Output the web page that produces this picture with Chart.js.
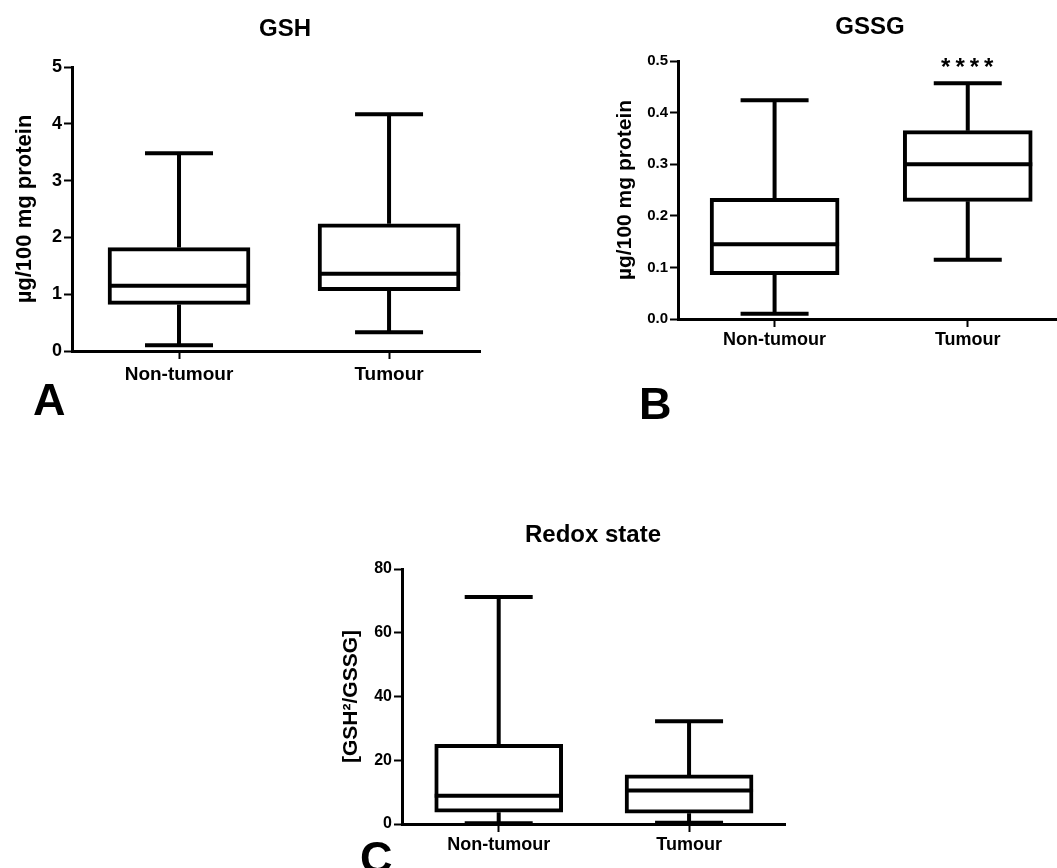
<!DOCTYPE html>
<html>
<head>
<meta charset="utf-8">
<title>GSH, GSSG and redox state</title>
<script src="https://cdn.jsdelivr.net/npm/chart.js@4.4.1/dist/chart.umd.min.js"></script>
<style>
  body { margin: 0; background: #fff; }
  #figure { position: relative; width: 1057px; height: 868px; overflow: hidden;
            font-family: 'Liberation Sans', Arial, sans-serif; font-weight: bold; color: #000; }
  #figure canvas { position: absolute; }
  .title { position: absolute; width: 300px; text-align: center; font-size: 24px; line-height: 24px; }
  .panel { position: absolute; font-size: 45px; line-height: 45px; }
</style>
</head>
<body>
<div id="figure">
  <canvas id="chart-gsh" width="500" height="430" style="left:0;top:0;width:500px;height:430px"></canvas>
  <canvas id="chart-gssg" width="557" height="430" style="left:500px;top:0;width:557px;height:430px"></canvas>
  <canvas id="chart-redox" width="500" height="368" style="left:330px;top:500px;width:500px;height:368px"></canvas>

  <div class="title" style="left:135px;top:16px">GSH</div>
  <div class="title" style="left:720px;top:14px">GSSG</div>
  <div class="title" style="left:443px;top:522px">Redox state</div>

  <div class="panel" style="left:33px;top:377px">A</div>
  <div class="panel" style="left:639px;top:381px">B</div>
  <div class="panel" style="left:360px;top:835px">C</div>
</div>

<script>
// groups on the x axis
const groups = ['Non-tumour', 'Tumour'];

// GSH, µg/100 mg protein
const gshMin = [0.10, 0.33];
const gshQ1 = [0.82, 1.06];
const gshMedian = [1.15, 1.36];
const gshQ3 = [1.82, 2.24];
const gshMax = [3.48, 4.17];

// GSSG, µg/100 mg protein
const gssgMin = [0.010, 0.115];
const gssgQ1 = [0.086, 0.228];
const gssgMedian = [0.145, 0.300];
const gssgQ3 = [0.234, 0.365];
const gssgMax = [0.424, 0.457];
const gssgMarks = ['', '****'];

// redox state, GSH^2/GSSG
const redoxMin = [0.2, 0.4];
const redoxQ1 = [3.7, 3.4];
const redoxMedian = [8.9, 10.5];
const redoxQ3 = [25.0, 15.4];
const redoxMax = [71.2, 32.2];

const FONT = "'Liberation Sans', Arial, sans-serif";
Chart.defaults.font.family = FONT;
Chart.defaults.font.weight = 'bold';
Chart.defaults.color = '#000';

// median line and whiskers, drawn from the scales after the boxes
const boxPlotLines = {
    id: 'boxPlotLines',
    afterDatasetsDraw(chart, args, opts) {
        const { ctx } = chart;
        const x = chart.scales.x;
        const y = chart.scales.y;
        ctx.save();
        ctx.strokeStyle = '#000';
        ctx.lineWidth = opts.lineWidth;
        groups.forEach((g, i) => {
            const cx = x.getPixelForValue(i + 1);
            const half = opts.boxWidth / 2;
            const cap = opts.capWidth / 2;
            const pMin = y.getPixelForValue(opts.min[i]);
            const pQ1 = y.getPixelForValue(opts.q1[i]);
            const pMed = y.getPixelForValue(opts.median[i]);
            const pQ3 = y.getPixelForValue(opts.q3[i]);
            const pMax = y.getPixelForValue(opts.max[i]);
            ctx.beginPath();
            ctx.moveTo(cx - half, pMed); ctx.lineTo(cx + half, pMed);
            ctx.moveTo(cx, pQ3); ctx.lineTo(cx, pMax);
            ctx.moveTo(cx - cap, pMax); ctx.lineTo(cx + cap, pMax);
            ctx.moveTo(cx, pQ1); ctx.lineTo(cx, pMin);
            ctx.moveTo(cx - cap, pMin); ctx.lineTo(cx + cap, pMin);
            ctx.stroke();

            // significance stars above the upper whisker
            if (opts.marks && opts.marks[i]) {
                ctx.font = 'bold 24px ' + FONT;
                ctx.fillStyle = '#000';
                ctx.textAlign = 'center';
                ctx.textBaseline = 'alphabetic';
                ctx.letterSpacing = '5px';
                ctx.fillText(opts.marks[i], cx + 2, pMax - 8);
                ctx.letterSpacing = '0px';
            }
        });
        ctx.restore();
    }
};

function makeBoxChart(id, s) {
    const axisGrid = { drawOnChartArea: false, drawTicks: true, offset: false, tickLength: 8, tickWidth: 2, tickColor: '#000' };
    const axisBorder = { display: true, color: '#000', width: 3 };

    return new Chart(document.getElementById(id), {
        type: 'bar',
        data: {
            datasets: [{
                data: groups.map((g, i) => ({ x: i + 1, y: [s.q1[i], s.q3[i]] })),
                backgroundColor: '#fff',
                borderColor: '#000',
                borderWidth: 4,
                borderSkipped: false,
                barThickness: s.boxWidth
            }]
        },
        options: {
            responsive: false,
            animation: false,
            events: [],
            layout: { padding: { top: s.padTop, right: s.padRight, bottom: 0, left: 0 } },
            plugins: {
                legend: { display: false },
                tooltip: { enabled: false },
                boxPlotLines: {
                    min: s.min, q1: s.q1, median: s.median, q3: s.q3, max: s.max,
                    marks: s.marks, boxWidth: s.boxWidth, capWidth: 68, lineWidth: 4
                }
            },
            scales: {
                x: {
                    type: 'linear',
                    offset: false,
                    min: s.xMin,
                    max: s.xMax,
                    afterBuildTicks: (scale) => { scale.ticks = groups.map((g, i) => ({ value: i + 1 })); },
                    ticks: {
                        callback: (v) => groups[Math.round(v) - 1],
                        font: { size: s.xFont },
                        padding: s.xPad,
                        maxRotation: 0,
                        autoSkip: false
                    },
                    grid: axisGrid,
                    border: axisBorder,
                    afterFit: (scale) => { scale.height = s.xHeight; }
                },
                y: {
                    min: 0,
                    max: s.yMax,
                    ticks: {
                        stepSize: s.yStep,
                        callback: (v) => v.toFixed(s.digits),
                        font: { size: s.tickFont },
                        padding: 2
                    },
                    grid: axisGrid,
                    border: axisBorder,
                    title: {
                        display: true,
                        text: s.yTitle,
                        font: { size: s.titleFont, weight: 'bold' },
                        padding: { top: s.titlePad, bottom: 0 }
                    },
                    afterFit: (scale) => { scale.width = s.yWidth; }
                }
            }
        },
        plugins: [boxPlotLines]
    });
}

makeBoxChart('chart-gsh', {
    min: gshMin, q1: gshQ1, median: gshMedian, q3: gshQ3, max: gshMax,
    yMax: 5, yStep: 1, digits: 0, yTitle: 'µg/100 mg protein',
    boxWidth: 142, xMin: 0.4905, xMax: 2.433,
    padTop: 67, padRight: 20, xHeight: 79, yWidth: 72,
    xFont: 19, xPad: 4, tickFont: 18, titleFont: 22, titlePad: 12
});

makeBoxChart('chart-gssg', {
    min: gssgMin, q1: gssgQ1, median: gssgMedian, q3: gssgQ3, max: gssgMax, marks: gssgMarks,
    yMax: 0.5, yStep: 0.1, digits: 1, yTitle: 'µg/100 mg protein',
    boxWidth: 129, xMin: 0.5, xMax: 2.462,
    padTop: 61, padRight: 0, xHeight: 111, yWidth: 178,
    xFont: 18, xPad: 2, tickFont: 15, titleFont: 21, titlePad: 113
});

makeBoxChart('chart-redox', {
    min: redoxMin, q1: redoxQ1, median: redoxMedian, q3: redoxQ3, max: redoxMax,
    yMax: 80, yStep: 20, digits: 0, yTitle: '[GSH²/GSSG]',
    boxWidth: 128, xMin: 0.492, xMax: 2.504,
    padTop: 69, padRight: 45, xHeight: 44, yWidth: 72,
    xFont: 18, xPad: 2, tickFont: 16, titleFont: 21, titlePad: 9
});
</script>
</body>
</html>
